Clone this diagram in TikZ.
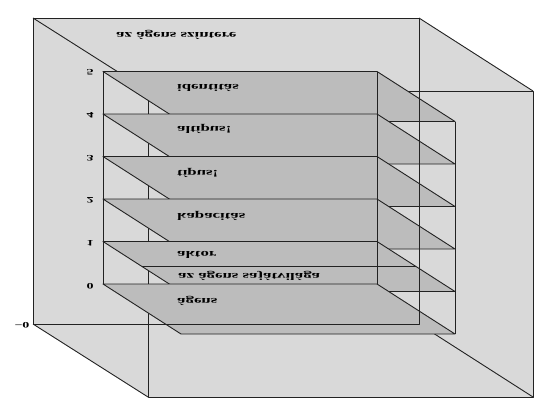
\documentclass[tikz,border=0pt]{standalone}
\usepackage{fontspec}
\setmainfont{Liberation Serif}
\usepackage{graphicx}
\definecolor{boxfill}{HTML}{D9D9D9}
\definecolor{planefill}{HTML}{BCBCBC}
\definecolor{edgecol}{HTML}{222222}
\newcommand\flipt[1]{\scalebox{1}[-0.6]{#1}}
\tikzset{
  edge/.style={draw=edgecol, line width=0.9pt, line join=round},
  planestyle/.style={edge, fill=planefill},
  lbl/.style={anchor=west, inner sep=0pt, font=\fontsize{16.8}{20}\selectfont\bfseries},
  num/.style={inner sep=0pt, font=\fontsize{14}{16}\selectfont\bfseries}
}
\begin{document}
\begin{tikzpicture}[x=1pt,y=-1pt]
\useasboundingbox (0,0) rectangle (542,413);
% outer box fill
\fill[boxfill] (33,18) -- (419,18) -- (533,91) -- (533,397) -- (148,397) -- (33,324) -- cycle;
% front face and connecting edges (behind the planes)
\draw[edge] (148,91) rectangle (533,397);
\draw[edge] (33,18) -- (148,91);
\draw[edge] (419,18) -- (533,91);
\draw[edge] (33,324) -- (148,397);
\draw[edge] (419,324) -- (533,397);
% planes, top first
\foreach \y in {71.5,114,156.5,199,241.5,284}{
  \filldraw[planestyle] (103,\y) -- (377,\y) -- (455,\y+50) -- (181,\y+50) -- cycle;
}
\draw[edge] (142,266.5) -- (416,266.5);
% back face
\draw[edge] (33,18) rectangle (419,324);
% inner box vertical edges
\draw[edge] (103,71.5) -- (103,284);
\draw[edge] (377,71.5) -- (377,284);
\draw[edge] (455,121.5) -- (455,334);
% labels
\node[lbl] (scene) at (116,35) {\flipt{az ágens színtere}};
\node[lbl] (l5) at (177,88) {\flipt{identitás}};
\node[lbl] (l4) at (177,129) {\flipt{altípus!}};
\node[lbl] (l3) at (177,173) {\flipt{típus!}};
\node[lbl] (l2) at (177,216) {\flipt{kapacitás}};
\node[lbl] (l1) at (177,255) {\flipt{aktor}};
\node[lbl] (l1b) at (178,276) {\flipt{az ágens sajátvilága}};
\node[lbl] (l0) at (177,301) {\flipt{ágens}};
\node[num] (n5) at (90,72) {\flipt{5}};
\node[num] (n4) at (90,115) {\flipt{4}};
\node[num] (n3) at (90,158) {\flipt{3}};
\node[num] (n2) at (90,200) {\flipt{2}};
\node[num] (n1) at (90,243) {\flipt{1}};
\node[num] (n0) at (90,286) {\flipt{0}};
\node[num] (nm) at (22,325) {\flipt{−0}};
\end{tikzpicture}
\end{document}
